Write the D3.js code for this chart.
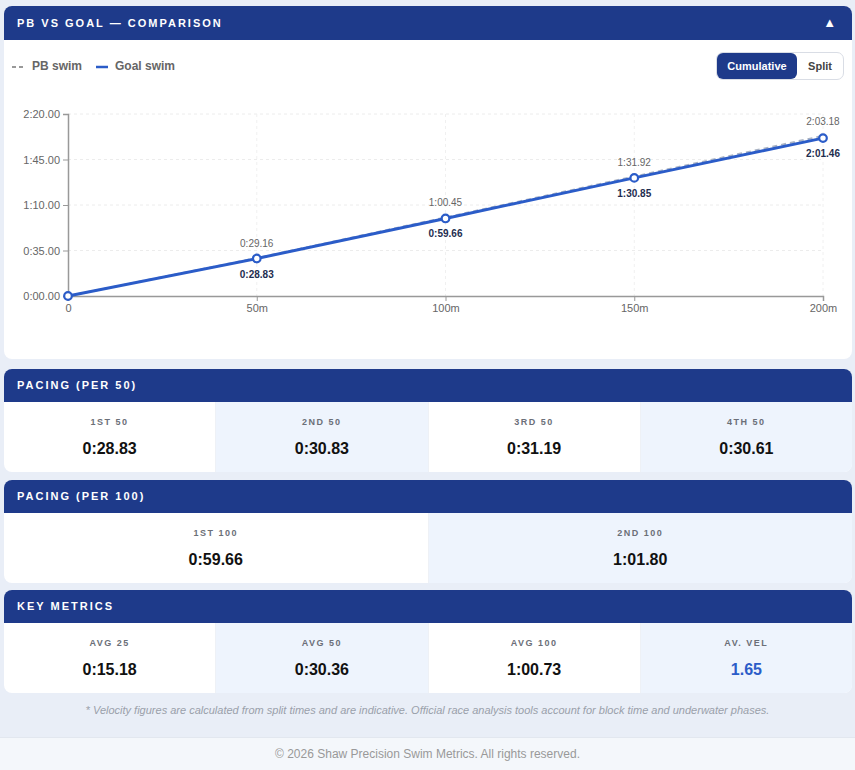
<!DOCTYPE html>
<html>
<head>
<meta charset="utf-8">
<script src="https://cdn.jsdelivr.net/npm/d3@7"></script>
<style>
  html, body { margin: 0; padding: 0; }
  body { background: #e9eef7; font-family: "Liberation Sans", Arial, sans-serif; }
  #root { position: relative; width: 855px; height: 770px; }
  .card { position: absolute; left: 4px; width: 848px; background: #fff; border-radius: 8px; }
  .head { background: #1e3a8a; color: #fff; font-weight: bold; font-size: 11px; letter-spacing: 2px; padding-left: 13px; box-sizing: border-box; position: relative; border-radius: 8px 8px 0 0; }
  .head .arrow { position: absolute; right: 16px; font-size: 13px; letter-spacing: 0; }
  .cells { display: flex; }
  .cell { flex: 1; text-align: center; box-sizing: border-box; border-right: 1px solid #eef1f6; }
  .cell:nth-child(even) { background: #eef4fd; }
  .cell:first-child { border-bottom-left-radius: 8px; }
  .cell:last-child { border-bottom-right-radius: 8px; border-right: none; }
  .cell .lab { font-size: 9px; font-weight: bold; color: #6b6f78; letter-spacing: 1.5px; line-height: 12px; }
  .cell .val { font-size: 16px; font-weight: bold; color: #111; line-height: 20px; }
  .legend { position: absolute; left: 8px; top: 52px; font-size: 12px; font-weight: bold; color: #666; line-height: 16px; white-space: nowrap; }
  .toggle { position: absolute; left: 712px; top: 46px; width: 126px; height: 26px; border: 1px solid #d9dde5; border-radius: 7px; display: flex; font-size: 11px; font-weight: bold; }
  .toggle div { display: flex; align-items: center; justify-content: center; }
  .note { position: absolute; top: 702px; left: 0; width: 855px; height: 16px; line-height: 16px; text-align: center; font-size: 11px; font-style: italic; color: #9aa0aa; white-space: nowrap; }
  .footer { position: absolute; top: 737px; left: 0; width: 855px; height: 32px; background: #f4f7fb; border-top: 1px solid #e2e7ef; text-align: center; font-size: 12px; color: #999; line-height: 32px; }
</style>
</head>
<body>
<div id="root"></div>
<script>
// chart data
const distances = [0, 50, 100, 150, 200];
const pbTimes = [0, 29.16, 60.45, 91.92, 123.18];
const goalTimes = [0, 28.83, 59.66, 90.85, 121.46];
const yTicks = [0, 35, 70, 105, 140];
const xTickLabels = ['0', '50m', '100m', '150m', '200m'];

// stat panels
const per50Labels = ['1ST 50', '2ND 50', '3RD 50', '4TH 50'];
const per50Values = ['0:28.83', '0:30.83', '0:31.19', '0:30.61'];
const per100Labels = ['1ST 100', '2ND 100'];
const per100Values = ['0:59.66', '1:01.80'];
const metricLabels = ['AVG 25', 'AVG 50', 'AVG 100', 'AV. VEL'];
const metricValues = ['0:15.18', '0:30.36', '1:00.73', '1.65'];

const fmt = s => {
    const m = Math.floor(s / 60);
    const r = s - m * 60;
    return m + ':' + (r < 10 ? '0' : '') + r.toFixed(2);
};

const root = d3.select('#root');

// ---- chart card ----
const card = root.append('div').attr('class', 'card')
    .style('top', '6px').style('height', '353px');
card.append('div').attr('class', 'head')
    .style('height', '34px').style('line-height', '34px')
    .html('PB VS GOAL — COMPARISON<span class="arrow">▲</span>');

const legend = card.append('div').attr('class', 'legend');
legend.append('svg').attr('width', 16).attr('height', 10).style('vertical-align', 'middle')
    .append('line').attr('x1', 0).attr('x2', 14).attr('y1', 5).attr('y2', 5)
    .attr('stroke', '#999').attr('stroke-width', 2).attr('stroke-dasharray', '4,3');
legend.append('span').style('margin-left', '4px').style('margin-right', '14px').text('PB swim');
legend.append('svg').attr('width', 14).attr('height', 10).style('vertical-align', 'middle')
    .append('line').attr('x1', 0).attr('x2', 12).attr('y1', 5).attr('y2', 5)
    .attr('stroke', '#2b5cc8').attr('stroke-width', 2.5);
legend.append('span').style('margin-left', '5px').text('Goal swim');

const toggle = card.append('div').attr('class', 'toggle');
toggle.append('div').style('width', '80px').style('background', '#1e3a8a').style('color', '#fff')
    .style('border-radius', '6px').text('Cumulative');
toggle.append('div').style('flex', '1').style('color', '#444').text('Split');

const width = 848, height = 269;
const margin = { top: 24, bottom: 63, right: 29, left: 64 };
const innerWidth = width - margin.left - margin.right;
const innerHeight = height - margin.top - margin.bottom;

const svg = card.append('svg')
    .attr('width', width).attr('height', height)
    .style('position', 'absolute').style('left', 0).style('top', '84px');

const xScale = d3.scaleLinear().domain([0, 200]).range([0, innerWidth]);
const yScale = d3.scaleLinear().domain([0, 140]).range([innerHeight, 0]);

const g = svg.append('g').attr('transform', `translate(${margin.left}, ${margin.top})`);

// grid
g.append('g').selectAll('line').data(yTicks.slice(1)).enter().append('line')
    .attr('x1', 0).attr('x2', innerWidth)
    .attr('y1', d => yScale(d)).attr('y2', d => yScale(d))
    .attr('stroke', '#ececec').attr('stroke-dasharray', '3,3');
g.append('g').selectAll('line').data(distances.slice(1)).enter().append('line')
    .attr('x1', d => xScale(d)).attr('x2', d => xScale(d))
    .attr('y1', 0).attr('y2', innerHeight)
    .attr('stroke', '#f0f0f0').attr('stroke-dasharray', '3,3');

const xAxis = d3.axisBottom(xScale).tickValues(distances)
    .tickFormat((d, i) => xTickLabels[i]).tickSize(5).tickPadding(3);
const yAxis = d3.axisLeft(yScale).tickValues(yTicks)
    .tickFormat(fmt).tickSize(5).tickPadding(3);

const xAxisG = g.append('g').attr('transform', `translate(0, ${innerHeight})`).call(xAxis);
const yAxisG = g.append('g').call(yAxis);
[xAxisG, yAxisG].forEach(a => {
    a.selectAll('.domain').attr('stroke', '#999').attr('stroke-width', 1.5);
    a.selectAll('.tick line').attr('stroke', '#999');
    a.selectAll('text').attr('fill', '#666').style('font-size', '11px')
        .style('font-family', '"Liberation Sans", Arial, sans-serif');
});

const pbData = distances.map((d, i) => ({ x: d, y: pbTimes[i] }));
const goalData = distances.map((d, i) => ({ x: d, y: goalTimes[i] }));
const line = d3.line().x(d => xScale(d.x)).y(d => yScale(d.y));

g.append('path').datum(pbData).attr('d', line)
    .attr('fill', 'none').attr('stroke', '#a9b3c4').attr('stroke-width', 2)
    .attr('stroke-dasharray', '5,4');
g.append('path').datum(goalData).attr('d', line)
    .attr('fill', 'none').attr('stroke', '#2b5cc8').attr('stroke-width', 3);

g.selectAll('circle').data(goalData).enter().append('circle')
    .attr('cx', d => xScale(d.x)).attr('cy', d => yScale(d.y)).attr('r', 3.8)
    .attr('fill', '#fff').attr('stroke', '#2b5cc8').attr('stroke-width', 2.2);

g.selectAll('.pb-label').data(pbData.slice(1)).enter().append('text')
    .attr('class', 'pb-label')
    .attr('x', d => xScale(d.x)).attr('y', d => yScale(d.y) - 11)
    .attr('text-anchor', 'middle').attr('fill', '#666')
    .style('font-size', '10px').style('font-family', '"Liberation Sans", Arial, sans-serif')
    .text(d => fmt(d.y));

g.selectAll('.goal-label').data(goalData.slice(1)).enter().append('text')
    .attr('class', 'goal-label')
    .attr('x', d => xScale(d.x)).attr('y', d => yScale(d.y) + 19)
    .attr('text-anchor', 'middle').attr('fill', '#1e2d4f').attr('font-weight', 'bold')
    .style('font-size', '10px').style('font-family', '"Liberation Sans", Arial, sans-serif')
    .text(d => fmt(d.y));

// ---- stat cards ----
function statCard(top, title, labels, values, highlightLast) {
    const c = root.append('div').attr('class', 'card').style('top', top + 'px').style('height', '103px');
    c.append('div').attr('class', 'head').style('height', '33px').style('line-height', '32px').text(title);
    const cells = c.append('div').attr('class', 'cells');
    const cell = cells.selectAll('.cell').data(labels).enter().append('div').attr('class', 'cell')
        .style('height', '70px');
    cell.append('div').attr('class', 'lab').style('padding-top', '14px').text(d => d);
    cell.append('div').attr('class', 'val').style('margin-top', '11px')
        .style('color', (d, i) => highlightLast && i === labels.length - 1 ? '#2b5cc8' : '#111')
        .text((d, i) => values[i]);
}
statCard(369, 'PACING (PER 50)', per50Labels, per50Values, false);
statCard(480, 'PACING (PER 100)', per100Labels, per100Values, false);
statCard(590, 'KEY METRICS', metricLabels, metricValues, true);

root.append('div').attr('class', 'note')
    .text('* Velocity figures are calculated from split times and are indicative. Official race analysis tools account for block time and underwater phases.');
root.append('div').attr('class', 'footer').text('© 2026 Shaw Precision Swim Metrics. All rights reserved.');
</script>
</body>
</html>
